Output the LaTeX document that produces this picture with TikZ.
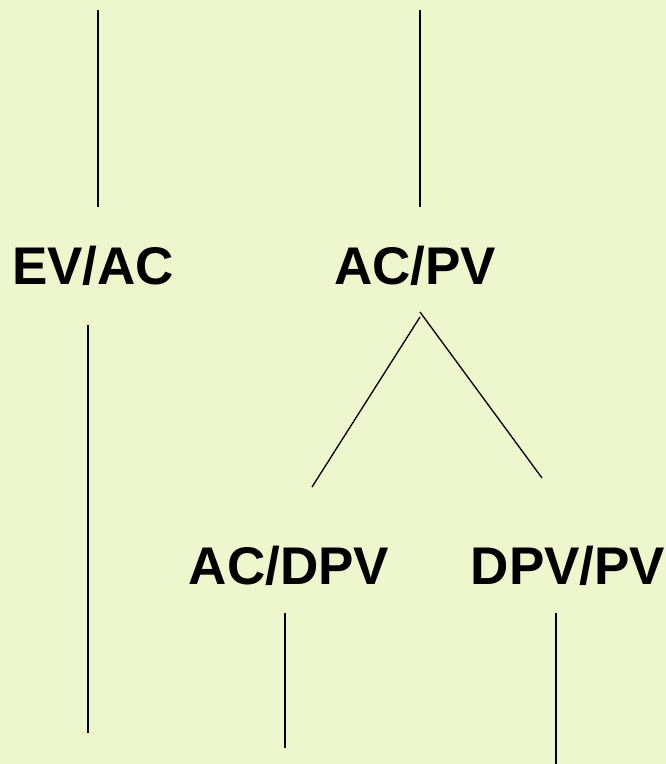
\documentclass[tikz,border=0pt]{standalone}
\usepackage{fontspec}
\setmainfont{Liberation Sans}
\definecolor{bgc}{RGB}{237,246,204}
\begin{document}
\begin{tikzpicture}[x=1pt,y=-1pt,
  lbl/.style={font=\fontsize{53}{60}\selectfont\bfseries, inner sep=0pt, anchor=center},
  conn/.style={draw=black, line width=1.3pt}]
\fill[bgc] (0,0) rectangle (666,764);
\useasboundingbox (0,0) rectangle (666,764);
\node[lbl] (evac) at (93,266) {EV/AC};
\node[lbl] (acpv) at (415,266) {AC/PV};
\node[lbl] (acdpv) at (289,566) {AC/DPV};
\node[lbl] (dpvpv) at (568,566) {DPV/PV};
\coordinate (t1) at (98,10);
\coordinate (b1) at (98,207);
\coordinate (t2) at (420,10);
\coordinate (b2) at (420,207);
\coordinate (e1) at (88,325);
\coordinate (e2) at (88,733);
\coordinate (v1) at (420,317);
\coordinate (v0) at (420,312);
\coordinate (vl) at (312,487);
\coordinate (vr) at (542,478);
\coordinate (d1) at (285,613);
\coordinate (d2) at (285,748);
\coordinate (p1) at (556,613);
\coordinate (p2) at (556,764);
\draw[conn] (t1) -- (b1);
\draw[conn] (t2) -- (b2);
\draw[conn] (e1) -- (e2);
\draw[conn] (v1) -- (vl);
\draw[conn] (v0) -- (vr);
\draw[conn] (d1) -- (d2);
\draw[conn] (p1) -- (p2);
\end{tikzpicture}
\end{document}
